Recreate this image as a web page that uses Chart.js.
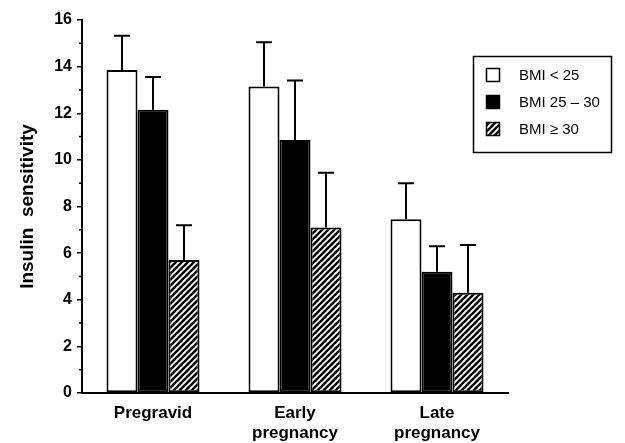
<!DOCTYPE html>
<html>
<head>
<meta charset="utf-8">
<script src="https://cdn.jsdelivr.net/npm/chart.js@4"></script>
<style>
  html, body { margin: 0; padding: 0; background: #fff; }
  canvas { display: block; }
</style>
</head>
<body>
<canvas id="chart" width="625" height="443"></canvas>
<script>
const categories = [['Pregravid'], ['Early', 'pregnancy'], ['Late', 'pregnancy']];
const seriesNames = ['BMI < 25', 'BMI 25 \u2013 30', 'BMI \u2265 30'];

// mean insulin sensitivity per group
const bmiUnder25 = [13.85, 13.15, 7.45];
const bmi25to30 = [12.15, 10.85, 5.2];
const bmiOver30 = [5.7, 7.1, 4.3];

// upper error (SE) per group
const errUnder25 = [1.47, 1.9, 1.55];
const err25to30 = [1.4, 2.55, 1.1];
const errOver30 = [1.5, 2.35, 2.05];

const yTicks = [0, 2, 4, 6, 8, 10, 12, 14, 16];

const FONT = '"Liberation Sans", Arial, sans-serif';

function hatchPattern() {
    const c = document.createElement('canvas');
    c.width = 6; c.height = 6;
    const g = c.getContext('2d');
    g.fillStyle = '#fff';
    g.fillRect(0, 0, 6, 6);
    g.strokeStyle = '#000';
    g.lineWidth = 2.4;
    g.beginPath();
    g.moveTo(-1, 7); g.lineTo(7, -1);
    g.moveTo(-1, 1); g.lineTo(1, -1);
    g.moveTo(5, 7); g.lineTo(7, 5);
    g.stroke();
    return g.createPattern(c, 'repeat');
}

const hatch = hatchPattern();

const errorBars = {
    id: 'errorBars',
    afterDatasetsDraw(chart) {
        const ctx = chart.ctx;
        const y = chart.scales.y;
        ctx.save();
        ctx.strokeStyle = '#000';
        ctx.lineWidth = 2;
        chart.data.datasets.forEach((ds, i) => {
            const meta = chart.getDatasetMeta(i);
            meta.data.forEach((bar, j) => {
                const top = y.getPixelForValue(ds.data[j] + ds.errors[j]);
                ctx.beginPath();
                ctx.moveTo(bar.x, bar.y);
                ctx.lineTo(bar.x, top);
                ctx.moveTo(bar.x - 8, top);
                ctx.lineTo(bar.x + 8, top);
                ctx.stroke();
            });
        });
        ctx.restore();
    }
};

// short ticks at odd values + boxed legend
const extras = {
    id: 'extras',
    afterDraw(chart) {
        const ctx = chart.ctx;
        const y = chart.scales.y;
        const left = chart.chartArea.left;
        ctx.save();
        ctx.strokeStyle = '#000';
        ctx.lineWidth = 1.5;
        for (let v = 1; v < 16; v += 2) {
            const py = y.getPixelForValue(v);
            ctx.beginPath();
            ctx.moveTo(left - 3, py);
            ctx.lineTo(left, py);
            ctx.stroke();
        }

        ctx.lineWidth = 1.5;
        ctx.strokeRect(473.5, 56.5, 138, 96);
        ctx.font = '15px ' + FONT;
        ctx.textBaseline = 'middle';
        ctx.fillStyle = '#000';
        chart.data.datasets.forEach((ds, i) => {
            const cy = 75 + i * 27;
            ctx.fillStyle = ds.backgroundColor;
            ctx.fillRect(486, cy - 7, 14, 14);
            ctx.strokeRect(486.5, cy - 6.5, 13, 13);
            ctx.fillStyle = '#000';
            ctx.fillText(ds.label, 519, cy + 1);
        });
        ctx.restore();
    }
};

const barStyle = { borderColor: '#000', borderWidth: 2, borderSkipped: false };

new Chart(document.getElementById('chart'), {
    type: 'bar',
    data: {
        labels: categories,
        datasets: [
            { label: seriesNames[0], data: bmiUnder25, errors: errUnder25, backgroundColor: '#fff', ...barStyle },
            { label: seriesNames[1], data: bmi25to30, errors: err25to30, backgroundColor: '#000', ...barStyle },
            { label: seriesNames[2], data: bmiOver30, errors: errOver30, backgroundColor: hatch, ...barStyle }
        ]
    },
    options: {
        responsive: false,
        animation: false,
        devicePixelRatio: 1,
        layout: { padding: { top: 20, right: 117, left: 0, bottom: 0 } },
        datasets: { bar: { categoryPercentage: 0.655, barPercentage: 1.0 } },
        plugins: { legend: { display: false }, tooltip: { enabled: false } },
        scales: {
            x: {
                grid: { display: false },
                border: { display: true, color: '#000', width: 2 },
                ticks: {
                    color: '#000',
                    font: { family: FONT, size: 17, weight: 'bold', lineHeight: 1.2 },
                    padding: 2,
                    maxRotation: 0
                },
                afterFit(scale) { scale.height = 50; }
            },
            y: {
                min: 0,
                max: 16,
                afterBuildTicks(scale) { scale.ticks = yTicks.map(v => ({ value: v })); },
                grid: { drawOnChartArea: false, color: '#000', lineWidth: 1.5, tickLength: 5 },
                border: { display: true, color: '#000', width: 2 },
                ticks: { color: '#000', font: { family: FONT, size: 16, weight: 'bold' }, padding: 5 },
                title: {
                    display: true,
                    text: 'Insulin  sensitivity',
                    color: '#000',
                    font: { family: FONT, size: 19, weight: 'bold' },
                    padding: { top: 16, bottom: 0 }
                },
                afterFit(scale) { scale.width = 82; }
            }
        }
    },
    plugins: [errorBars, extras]
});
</script>
</body>
</html>
